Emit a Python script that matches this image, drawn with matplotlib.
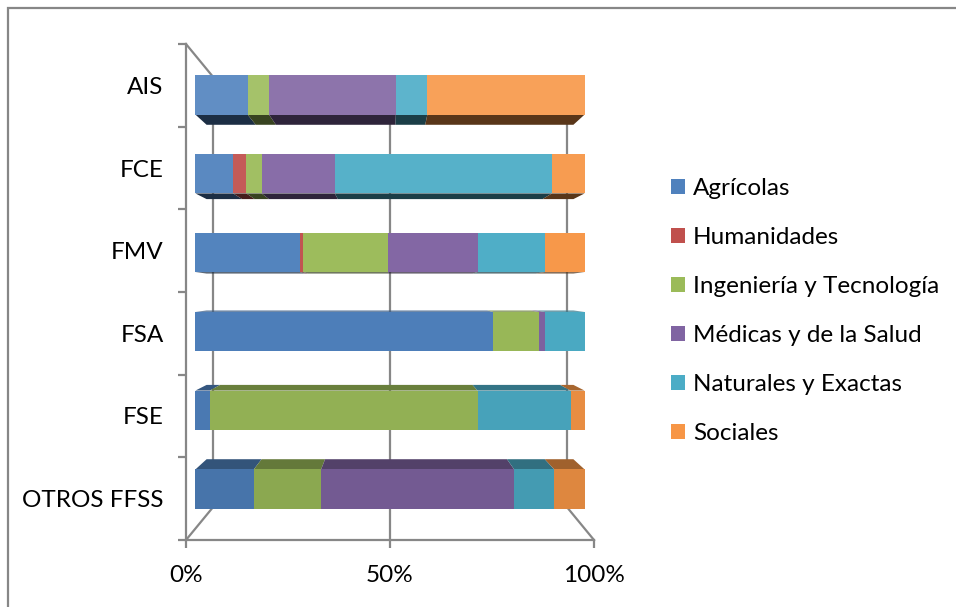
import numpy as np
import matplotlib
matplotlib.use("Agg")
import matplotlib.pyplot as plt
from matplotlib.patches import Polygon, Patch, Rectangle
from matplotlib.transforms import Affine2D
from matplotlib.colors import to_rgb

# ---- data -------------------------------------------------------------
categories = ["OTROS FFSS", "FSE", "FSA", "FMV", "FCE", "AIS"]
series_names = ["Agrícolas", "Humanidades", "Ingeniería y Tecnología",
                "Médicas y de la Salud", "Naturales y Exactas", "Sociales"]
agricolas   = [15.0,  3.7, 76.5, 26.8,  9.7, 13.4]
humanidades = [ 0.0,  0.0,  0.0,  0.9,  3.4,  0.0]
ingenieria  = [17.3, 68.8, 11.8, 21.8,  3.9,  5.5]
medicas     = [49.6,  0.0,  1.5, 23.0, 18.8, 32.6]
naturales   = [10.3, 23.9, 10.2, 17.2, 55.8,  8.1]
sociales    = [ 7.8,  3.6,  0.0, 10.3,  8.4, 40.4]
x_ticks = [0, 50, 100]
x_tick_labels = ["0%", "50%", "100%"]

base_colors = ["#4F81BD", "#C0504D", "#9BBB59", "#8064A2", "#4BACC6", "#F79646"]

# ---- figure -----------------------------------------------------------
W, H = 956, 607
fig = plt.figure(figsize=(W / 100, H / 100), dpi=100)
fig.patch.set_facecolor("white")
FONT = "Lato"
FS = 17.5
GRAY = "#878787"

# outer chart frame (runs off the right and bottom edges)
fig.add_artist(Rectangle((8 / W, -0.1), 1.2, 1 - 8 / H + 0.1, transform=fig.transFigure,
                         fill=False, edgecolor=GRAY, lw=1.6))

# front plane of the 3-D box
ax = fig.add_axes([186 / W, 67 / H, 408 / W, 496 / H])
n = len(categories)
ax.set_xlim(0, 100)
ax.set_ylim(-0.5, n - 0.5)
ax.set_facecolor("none")
for side in ("top", "right"):
    ax.spines[side].set_visible(False)
for side in ("left", "bottom"):
    ax.spines[side].set_color(GRAY)
    ax.spines[side].set_linewidth(1.6)

ax.set_yticks(range(n))
ax.set_yticklabels(categories, fontsize=FS, family=FONT)
ax.set_yticks(np.arange(-0.5, n), minor=True)
ax.tick_params(axis="y", which="major", length=0, pad=16)
ax.tick_params(axis="y", which="minor", length=5.5, width=1.6, color=GRAY, direction="out")
ax.set_xticks(x_ticks)
ax.set_xticklabels(x_tick_labels, fontsize=FS, family=FONT)
ax.tick_params(axis="x", which="major", length=6, width=1.6, color=GRAY, pad=12)

# perspective: each depth is a uniform scale about the vanishing point
VX, VY = 50.0, (n - 1) / 2.0
S_FRONT, S_BACK, S_WALL = 0.954, 0.899, 0.868


def proj(x, y, s):
    return (VX + s * (x - VX), VY + s * (y - VY))


def depth_transform(s):
    return Affine2D().translate(-VX, -VY).scale(s).translate(VX, VY) + ax.transData


# back wall and floor gridlines
y_lo, y_hi = -0.5, n - 0.5
for xv in x_ticks:
    p0, p1 = proj(xv, y_lo, S_WALL), proj(xv, y_hi, S_WALL)
    ax.plot([p0[0], p1[0]], [p0[1], p1[1]], color=GRAY, lw=1.6, zorder=1, clip_on=False)
    q0, q1 = proj(xv, y_lo, 1.0), proj(xv, y_lo, S_WALL)
    ax.plot([q0[0], q1[0]], [q0[1], q1[1]], color=GRAY, lw=1.6, zorder=1, clip_on=False)
# side wall top edge
t0, t1 = proj(0, y_hi, 1.0), proj(0, y_hi, S_WALL)
ax.plot([t0[0], t1[0]], [t0[1], t1[1]], color=GRAY, lw=1.6, zorder=1, clip_on=False)


def shade(color, f):
    c = np.array(to_rgb(color))
    if f >= 1:
        return tuple(c + (1 - c) * (f - 1))
    return tuple(c * f)


# ---- bars -------------------------------------------------------------
data = np.array([agricolas, humanidades, ingenieria, medicas, naturales, sociales])
data = data / data.sum(axis=0) * 100.0
bar_h = 0.5
row_light = np.linspace(0.90, 1.10, n)
front_tf = depth_transform(S_FRONT)

lefts = np.zeros(n)
for k, name in enumerate(series_names):
    vals = data[k]
    for i in range(n):
        if vals[i] <= 0:
            continue
        x0, x1 = lefts[i], lefts[i] + vals[i]
        yb, yt = i - bar_h / 2, i + bar_h / 2
        if yb > VY:      # underside visible
            ye, fshade = yb, 0.36
        elif yt < VY:    # top visible
            ye, fshade = yt, 0.72
        else:
            ye = None
        if ye is not None:
            pts = [proj(x0, ye, S_FRONT), proj(x1, ye, S_FRONT),
                   proj(x1, ye, S_BACK), proj(x0, ye, S_BACK)]
            ax.add_patch(Polygon(pts, closed=True,
                                 facecolor=shade(base_colors[k], fshade * min(row_light[i], 1.0)),
                                 edgecolor="none", zorder=2, clip_on=False))
    fcols = [shade(base_colors[k], row_light[i]) for i in range(n)]
    ax.barh(range(n), vals, left=lefts, height=bar_h, color=fcols, edgecolor="none",
            transform=front_tf, zorder=3, clip_on=False)
    lefts = lefts + vals

# ---- legend -----------------------------------------------------------
handles = [Patch(facecolor=c, edgecolor="none") for c in base_colors]
fig.legend(handles, series_names, loc="center left", bbox_to_anchor=(671 / W, 1 - 311 / H),
           frameon=False, prop={"family": FONT, "size": FS},
           borderaxespad=0, borderpad=0,
           handlelength=0.58, handleheight=0.58, handletextpad=0.32, labelspacing=1.15)

fig.savefig("out.png", dpi=100, facecolor="white")
